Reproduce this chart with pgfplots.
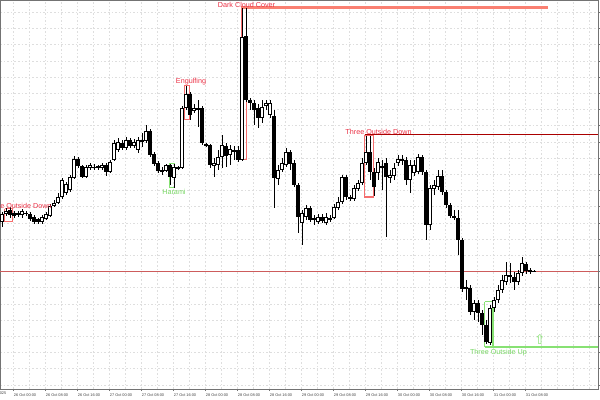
\documentclass[border=0pt]{standalone}
\usepackage{pgfplots}
\pgfplotsset{compat=1.18}
\usepackage{pgfplotstable}
\usepackage{fontspec}
\setmainfont{Liberation Sans}
\newfontfamily\dejavu{DejaVu Sans}
\definecolor{lblred}{RGB}{235,50,70}
\definecolor{boxred}{RGB}{245,110,110}
\definecolor{salmonl}{RGB}{250,128,114}
\definecolor{darkredl}{RGB}{170,0,0}
\definecolor{pline}{RGB}{205,92,92}
\definecolor{lgreen}{RGB}{120,215,100}
\definecolor{boxgreen}{RGB}{135,225,115}
\definecolor{gridc}{RGB}{222,222,222}
\newcommand\lblfont{\fontsize{5.4pt}{6pt}\selectfont}
% candles: x (pixel column), open, high, low, close in pixel rows (top = 0)
\pgfplotstableread{
x o h l c
2 222 212 227 214
6 214 208 216 211
10 210 207 218 215
14 213 211 218 216
18 215 211 217 213
22 215 209 218 211
26 213 211 216 214
30 214 212 221 219
34 217 215 224 222
38 219 218 224 222
42 222 215 224 217
46 219 212 220 214
50 216 204 217 206
54 206 200 207 203
58 203 193 204 197
62 197 178 199 180
66 193 182 195 184
70 190 175 192 177
74 178 156 179 159
78 159 157 168 166
82 166 165 178 177
86 177 165 178 167
90 168 163 170 165
94 167 164 170 168
98 168 165 170 166
102 168 163 170 165
106 165 163 176 172
110 172 160 173 162
114 160 140 161 143
118 150 138 152 142
122 143 140 150 148
126 148 137 150 140
130 140 138 148 146
134 146 139 148 142
138 150 137 153 140
142 142 133 147 140
146 141 125 143 131
150 131 129 157 155
154 154 152 166 164
158 163 161 173 171
162 170 167 175 172
166 171 164 172 165
170 165 164 185 177
174 178 164 188 167
178 167 166 170 169
182 168 106 169 108
186 108 86 110 94
190 94 92 120 115
194 111 104 113 108
198 110 100 127 108
202 108 106 145 143
206 144 143 147 146
210 145 144 168 165
214 166 158 177 163
218 165 150 170 157
222 157 135 168 145
226 146 143 167 156
230 155 145 165 149
234 152 146 160 150
238 150 146 162 160
242 160 8 161 37
246 36 8 102 100
250 100 98 110 103
254 103 100 125 110
258 108 104 128 118
262 118 100 123 107
266 106 100 110 103
270 115 100 118 103
274 116 110 208 178
278 179 165 185 170
282 170 158 172 163
286 165 148 167 152
290 152 150 170 164
294 163 160 187 185
298 185 183 233 217
302 223 210 245 213
306 217 205 220 208
310 208 206 222 220
314 220 215 225 218
318 222 214 224 217
322 217 214 223 221
326 223 213 225 217
330 220 215 222 218
334 218 204 219 207
338 208 197 210 202
342 202 175 204 177
346 177 175 200 197
350 197 195 201 199
354 199 185 201 188
358 189 180 191 183
362 183 158 185 163
366 163 136 165 152
370 152 136 180 172
374 172 168 196 187
378 173 158 180 162
382 168 160 190 166
386 163 158 237 177
390 178 170 183 175
394 176 163 180 168
398 163 155 166 159
402 159 155 165 161
406 160 157 185 180
410 180 160 193 165
414 173 160 176 165
418 172 154 174 157
422 157 155 175 172
426 172 170 240 225
430 225 185 230 188
434 189 180 195 185
438 187 170 190 176
442 176 170 195 192
446 192 190 208 205
450 205 203 218 216
454 216 210 220 218
458 218 210 255 240
462 240 238 292 289
466 287 280 300 289
470 288 285 315 312
474 312 300 320 303
478 303 300 322 313
482 313 310 335 325
486 325 320 344 342
490 343 305 345 308
494 308 297 312 300
498 300 285 303 290
502 290 275 293 280
506 282 262 285 275
510 275 263 283 277
514 277 272 290 282
518 282 270 285 273
522 273 257 276 263
526 264 262 274 271
530 270 268 274 272
534 271 270 272 271.6
}\candles
\begin{document}
\begin{tikzpicture}
\begin{axis}[
  at={(0pt,0pt)}, anchor=south west,
  scale only axis, width=448.5pt, height=291.75pt,
  xmin=0, xmax=598, ymin=0, ymax=389,
  clip=false,
  axis line style={draw=black!55, line width=0.6pt},
  xtick={13.3,45.3,77.3,109.3,141.3,173.3,205.3,237.3,269.3,301.3,333.3,365.3,397.3,429.3,461.3,493.3,525.3},
  xticklabels={26 Oct 00:00,26 Oct 08:00,26 Oct 16:00,27 Oct 00:00,27 Oct 08:00,27 Oct 16:00,28 Oct 00:00,28 Oct 08:00,28 Oct 16:00,29 Oct 00:00,29 Oct 08:00,29 Oct 16:00,30 Oct 00:00,30 Oct 08:00,30 Oct 16:00,31 Oct 00:00,31 Oct 08:00},
  minor xtick={29.3,61.3,93.3,125.3,157.3,189.3,221.3,253.3,285.3,317.3,349.3,381.3,413.3,445.3,477.3,509.3,541.3,557.3,573.3,589.3},
  ytick={4.1,20.3,36.5,52.7,68.9,85.1,101.3,117.5,133.7,149.9,166.1,182.3,198.5,214.7,230.9,247.1,263.3,279.5,295.7,311.9,328.1,344.3,360.5,376.7},
  yticklabels={},
  xticklabel style={anchor=north west, inner sep=0pt, yshift=-2pt, xshift=0.3pt, font=\fontsize{2.9pt}{3pt}\selectfont, text=black!75},
  xtick pos=bottom, ytick pos=right, tick align=outside,
  major tick length=1.5pt, minor tick length=0pt,
  tick style={draw=black!55, line width=0.5pt},
  grid=both,
  major grid style={draw=gridc, line width=0.45pt, dash pattern=on 1.2pt off 1.5pt},
  minor grid style={draw=gridc, line width=0.45pt, dash pattern=on 1.2pt off 1.5pt},
]
% pattern boxes (behind candles)
\addplot[boxred, line width=0.75pt, mark=none, forget plot] coordinates {(4.7,180) (12.7,180) (12.7,167) (4.7,167) (4.7,180)};
\addplot[boxred, line width=0.75pt, mark=none, forget plot] coordinates {(184,303) (189,303) (189,269) (184,269) (184,303)};
\addplot[boxgreen, line width=0.75pt, mark=none, forget plot] coordinates {(169,225) (174,225) (174,201) (169,201) (169,225)};
\addplot[boxred, line width=0.75pt, mark=none, forget plot] coordinates {(241,381) (246,381) (246,229) (241,229) (241,381)};
\addplot[boxred, line width=1.2pt, mark=none, forget plot] coordinates {(364.5,254) (373.5,254) (373.5,192) (364.5,192) (364.5,254)};
\addplot[boxgreen, line width=1.2pt, mark=none, forget plot] coordinates {(484.5,87.3) (493,87.3) (493,42.3) (484.5,42.3) (484.5,87.3)};
% horizontal levels
\addplot[pline, line width=0.6pt, mark=none, forget plot] coordinates {(0,118) (598,118)};
\addplot[darkredl, line width=0.75pt, mark=none, forget plot] coordinates {(364.5,254.5) (598,254.5)};
\addplot[salmonl, line width=1.6pt, mark=none, forget plot] coordinates {(241,381.5) (548,381.5)};
\addplot[boxgreen, line width=1.6pt, mark=none, forget plot] coordinates {(484.5,42.3) (598,42.3)};
% wicks
\addplot[draw=none, mark=none, forget plot,
  error bars/.cd, y dir=plus, y explicit, error mark=none,
  error bar style={draw=black, line width=0.75pt}]
  table[x=x, y expr=389-\thisrow{l}, y error expr=\thisrow{l}-\thisrow{h}] {\candles};
% bodies (black outline / black fill)
\addplot[draw=none, mark=none, forget plot,
  error bars/.cd, y dir=plus, y explicit, error mark=none,
  error bar style={draw=black, line width=2.6pt}]
  table[x=x, y expr={389-max(\thisrow{o},\thisrow{c})}, y error expr={abs(\thisrow{o}-\thisrow{c})}] {\candles};
% white interior of bullish bodies
\addplot[draw=none, mark=none, forget plot,
  restrict expr to domain={\thisrow{o}-\thisrow{c}}{2.5:1000},
  error bars/.cd, y dir=plus, y explicit, error mark=none,
  error bar style={draw=white, line width=1.15pt}]
  table[x=x, y expr={389.9-\thisrow{o}}, y error expr={\thisrow{o}-\thisrow{c}-1.8}] {\candles};
% arrow object
\addplot[only marks, mark=text, text mark={\textcolor{boxgreen}{\fontsize{10pt}{10pt}\dejavu ⇧}}, forget plot] coordinates {(540,50)};
% labels
\node[text=lblred, font=\lblfont, inner sep=0pt] at (axis cs:18.5,183) {Three Outside Down};
\node[text=lblred, font=\lblfont, inner sep=0pt] at (axis cs:191,307) {Engulfing};
\node[text=lgreen, font=\lblfont, inner sep=0pt] at (axis cs:174,197) {Harami};
\node[text=lblred, font=\lblfont, inner sep=0pt] at (axis cs:246.5,384.5) {Dark Cloud Cover};
\node[text=lblred, font=\lblfont, inner sep=0pt] at (axis cs:378.5,257.5) {Three Outside Down};
\node[text=lgreen, font=\lblfont, inner sep=0pt] at (axis cs:498.5,36) {Three Outside Up};
\node[anchor=north east, inner sep=0pt, yshift=-2pt, font=\fontsize{2.9pt}{3pt}\selectfont, text=black!75] at (axis cs:6.5,0) {24 Oct 2025};
\end{axis}
\pgfresetboundingbox
\useasboundingbox (0pt,-8.25pt) rectangle (450pt,291.75pt);
\end{tikzpicture}
\end{document}
